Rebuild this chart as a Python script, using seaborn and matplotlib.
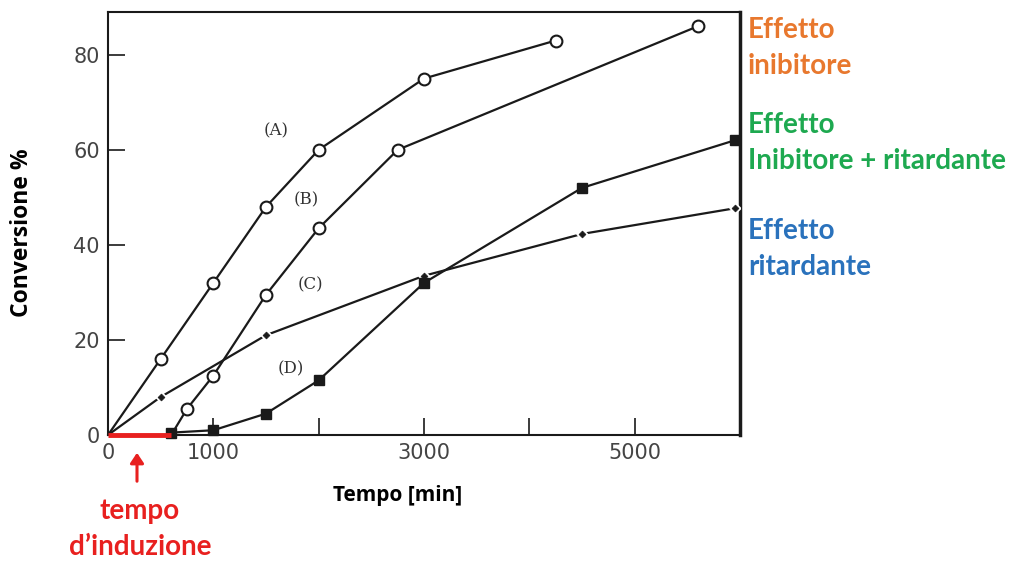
import matplotlib
matplotlib.use("Agg")
import matplotlib.pyplot as plt
import seaborn as sns

# ---- data ----
a_time = [0, 500, 1000, 1500, 2000, 3000, 4250]
a_conv = [0, 16, 32, 48, 60, 75, 83]
b_time = [600, 750, 1000, 1500, 2000, 2750, 5600]
b_conv = [0, 5.5, 12.5, 29.5, 43.5, 60, 86]
c_time = [0, 500, 1500, 3000, 4500, 5950]
c_conv = [0, 8, 21, 33.5, 42.3, 47.7]
d_time = [600, 1000, 1500, 2000, 3000, 4500, 5950]
d_conv = [0.5, 1, 4.5, 11.5, 32, 52, 62]
induction_time = 600

curve_labels = ["(A)", "(B)", "(C)", "(D)"]
label_x = [1600, 1880, 1920, 1740]
label_y = [64, 49.5, 31.5, 14]

x_ticks = [0, 1000, 2000, 3000, 4000, 5000]
x_ticklabels = ["0", "1000", "", "3000", "", "5000"]
y_ticks = [0, 20, 40, 60, 80]
y_ticklabels = ["0", "20", "40", "60", "80"]

effect_texts = ["Effetto\ninibitore", "Effetto\nInibitore + ritardante", "Effetto\nritardante"]
effect_colors = ["#E8782E", "#1EA950", "#2A72BC"]
effect_y = [48, 143, 249]  # pixel centers (from top)

sns.set_style("white")
plt.rcParams["font.family"] = ["DejaVu Sans"]

W, H = 1018, 561
fig = plt.figure(figsize=(W / 100, H / 100), dpi=100)
ax = fig.add_axes([108 / W, 126 / H, (740 - 108) / W, (435 - 12) / H])

ink = "#1a1a1a"
common = dict(ax=ax, estimator=None, sort=False, legend=False, color=ink, linewidth=1.6)

sns.lineplot(x=a_time, y=a_conv, **common)
ax.plot(a_time[1:], a_conv[1:], linestyle="none", marker="o", markersize=8.5,
        markerfacecolor="white", markeredgecolor=ink, markeredgewidth=1.5, zorder=4)
sns.lineplot(x=b_time, y=b_conv, **common)
ax.plot(b_time[1:], b_conv[1:], linestyle="none", marker="o", markersize=8.5,
        markerfacecolor="white", markeredgecolor=ink, markeredgewidth=1.5, zorder=4)
sns.lineplot(x=c_time, y=c_conv, **common)
ax.plot(c_time[1:], c_conv[1:], linestyle="none", marker="D", markersize=3.5,
        markerfacecolor=ink, markeredgecolor="white", markeredgewidth=3, zorder=4)
ax.plot(c_time[1:], c_conv[1:], linestyle="none", marker="D", markersize=3.5,
        markerfacecolor=ink, markeredgecolor=ink, markeredgewidth=0.5, zorder=5)
sns.lineplot(x=d_time, y=d_conv, **common)
ax.plot(d_time, d_conv, linestyle="none", marker="s", markersize=6.5,
        markerfacecolor=ink, markeredgecolor=ink, zorder=4, clip_on=False)

for lab, lx, ly in zip(curve_labels, label_x, label_y):
    ax.text(lx, ly, lab, fontsize=12, family="DejaVu Serif", color="#333333",
            ha="center", va="center")

# induction time bar
ax.plot([0, induction_time], [0, 0], color="#E8201F", linewidth=3.5,
        solid_capstyle="butt", clip_on=False, zorder=6)

ax.set_xlim(0, 6000)
ax.set_ylim(0, 89)
ax.set_xticks(x_ticks)
ax.set_xticklabels(x_ticklabels)
ax.set_yticks(y_ticks)
ax.set_yticklabels(y_ticklabels)
ax.tick_params(axis="both", direction="in", length=12, width=1.2, colors=ink,
               labelsize=15, labelcolor="#444444", pad=6, bottom=True, left=True)
for s in ax.spines.values():
    s.set_visible(True)
    s.set_color(ink)
    s.set_linewidth(1.5)
ax.spines["right"].set_linewidth(2.5)

ax.set_xlabel("")
ax.set_ylabel("")
fig.text(22 / W, 1 - 233 / H, "Conversione %", rotation=90, ha="center", va="center",
         fontsize=16.5, fontweight="bold", family="Open Sans", color="black")
fig.text(398 / W, 1 - 495 / H, "Tempo [min]", ha="center", va="center",
         fontsize=15, fontweight="bold", family="Open Sans", color="black")

# induction annotation
fig.patches.append(matplotlib.patches.FancyArrowPatch(
    (137 / W, 1 - 484 / H), (137 / W, 1 - 450 / H), transform=fig.transFigure,
    arrowstyle="-|>,head_length=6,head_width=4", color="#E8201F", linewidth=2.2))
fig.text(140 / W, 1 - 529 / H, "tempo\nd\u2019induzione", ha="center", va="center",
         fontsize=20, fontweight="bold", family="Lato", color="#E8201F", linespacing=1.45)

for t, c, yy in zip(effect_texts, effect_colors, effect_y):
    fig.text(748 / W, 1 - yy / H, t, ha="left", va="center", fontsize=20,
             fontweight="bold", family="Lato", color=c, linespacing=1.45)

fig.savefig("out.png", dpi=100)
